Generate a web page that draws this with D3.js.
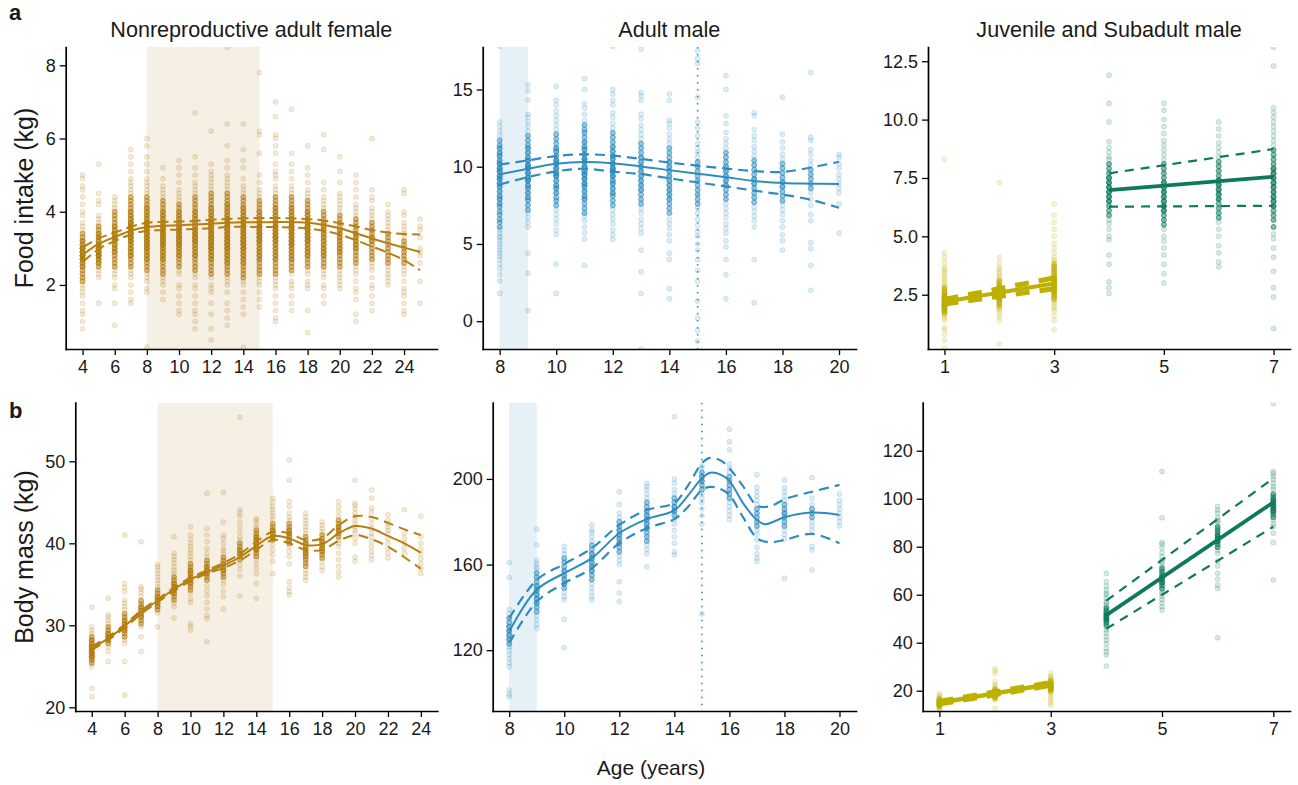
<!DOCTYPE html>
<html>
<head>
<meta charset="utf-8">
<script src="https://cdn.jsdelivr.net/npm/d3@7"></script>
<style>
  body { margin: 0; background: #fff; }
  svg { display: block; }
  text { font-family: "Liberation Sans", Arial, Helvetica, sans-serif; fill: #1a1a1a; }
</style>
</head>
<body>
<svg id="fig" width="1298" height="785"></svg>
<script>
// ---------- observations: one string per age, "value" or "value*count" ----------
const femaleFoodAges = [4,5,6,7,8,9,10,11,12,13,14,15,16,17,18,19,20,21,22,23,24,25];
const femaleFoodObs = [
  "0.8 1.0 1.2 1.3 1.5 1.7 1.8 1.9 2.0 2.1*4 2.2*4 2.3*4 2.4*4 2.5*7 2.6*7 2.7*11 2.8*11 2.9*11 3.0*11 3.1*7 3.2*7 3.3*4 3.4*4 3.5 3.6 3.7 3.9 4.0 4.2 4.4 4.6 4.7 4.9 5.0",
  "1.5 2.2 2.3 2.4 2.5*4 2.6*7 2.7*7 2.8*11 2.9*11 3.0*11 3.1*11 3.2*7 3.3*7 3.4*7 3.5*4 3.6*4 3.7 3.8 3.9 4.2 4.3 4.5 5.3",
  "0.9 1.5 1.9 2.0 2.2 2.3 2.4 2.5*4 2.6*4 2.7*4 2.8*4 2.9*7 3.0*7 3.1*7 3.2*7 3.3*11 3.4*7 3.5*7 3.6*7 3.7*4 3.8*4 3.9*4 4.0*4 4.1 4.2 4.3 4.4",
  "1.5 1.6 1.8 2.0 2.2 2.3 2.4 2.5*4 2.6*4 2.7*4 2.8*7 2.9*7 3.0*7 3.1*7 3.2*11 3.3*11 3.4*11 3.5*11 3.6*11 3.7*11 3.8*7 3.9*7 4.0*7 4.1*4 4.2*4 4.3*4 4.4*4 4.5 4.6 4.7 4.8 4.9 5.1 5.3 5.5 5.7",
  "0.3 1.8 1.9 2.1 2.2 2.3 2.4*4 2.5*4 2.6*4 2.7*7 2.8*7 2.9*7 3.0*11 3.1*11 3.2*11 3.3*11 3.4*11 3.5*11 3.6*11 3.7*11 3.8*7 3.9*7 4.0*7 4.1*7 4.2*4 4.3*4 4.4*4 4.5 4.6 4.7 4.8 4.9 5.1 5.3 5.5 5.8 6.0",
  "1.6 1.8 2.0 2.1 2.2 2.3*4 2.4*4 2.5*4 2.6*4 2.7*7 2.8*7 2.9*7 3.0*7 3.1*11 3.2*11 3.3*11 3.4*11 3.5*11 3.6*11 3.7*7 3.8*7 3.9*7 4.0*7 4.1*4 4.2*4 4.3*4 4.4 4.5 4.6 4.7 4.9 5.2",
  "1.2 1.3 1.5 1.7 1.9 2.0 2.3 2.4 2.5*4 2.6*4 2.7*4 2.8*7 2.9*7 3.0*7 3.1*11 3.2*11 3.3*11 3.4*11 3.5*11 3.6*11 3.7*7 3.8*7 3.9*7 4.0*7 4.1*4 4.2*4 4.3 4.4 4.5 4.6 4.8 5.0 5.2 5.4",
  "0.8 1.0 1.2 1.3 1.5 1.7 1.9 2.0 2.2 2.3 2.4*4 2.5*4 2.6*4 2.7*4 2.8*7 2.9*7 3.0*7 3.1*7 3.2*11 3.3*11 3.4*11 3.5*11 3.6*7 3.7*7 3.8*7 3.9*7 4.0*7 4.1*4 4.2*4 4.3*4 4.4*4 4.5 4.6 4.7 4.8 5.0 5.2 5.5 6.7",
  "0.5 0.8 1.2 1.5 1.8 1.9 2.0 2.2 2.3*4 2.4*4 2.5*4 2.6*4 2.7*7 2.8*7 2.9*7 3.0*11 3.1*11 3.2*11 3.3*11 3.4*11 3.5*11 3.6*11 3.7*11 3.8*7 3.9*7 4.0*7 4.1*7 4.2*4 4.3*4 4.4*4 4.5*4 4.6 4.7 4.8 4.9 5.0 5.1 5.3 6.2",
  "0.9 1.1 1.3 1.5 1.8 2.0 2.1 2.2 2.3*4 2.4*4 2.5*4 2.6*7 2.7*7 2.8*7 2.9*7 3.0*11 3.1*11 3.2*11 3.3*11 3.4*11 3.5*11 3.6*11 3.7*11 3.8*11 3.9*7 4.0*7 4.1*7 4.2*7 4.3*4 4.4*4 4.5*4 4.6 4.7 4.8 4.9 5.0 5.2 5.4 5.8 6.4 8.5",
  "0.3 1.2 1.4 1.6 1.8 2.0 2.1 2.2*4 2.3*4 2.4*4 2.5*4 2.6*7 2.7*7 2.8*7 2.9*7 3.0*11 3.1*11 3.2*11 3.3*11 3.4*11 3.5*11 3.6*11 3.7*11 3.8*7 3.9*7 4.0*7 4.1*7 4.2*4 4.3*4 4.4*4 4.5 4.6 4.7 4.9 5.2 5.4 5.7 6.4",
  "1.4 1.6 1.8 2.0 2.1 2.2 2.3*4 2.4*4 2.5*4 2.6*4 2.7*7 2.8*7 2.9*7 3.0*7 3.1*7 3.2*11 3.3*11 3.4*11 3.5*11 3.6*11 3.7*7 3.8*7 3.9*7 4.0*7 4.1*4 4.2*4 4.3*4 4.4 4.5 4.6 4.8 5.0 5.6 6.1 6.2 7.8",
  "1.0 1.1 1.3 1.5 1.7 1.9 2.0 2.1 2.2 2.3*4 2.4*4 2.5*4 2.6*4 2.7*7 2.8*7 2.9*7 3.0*7 3.1*7 3.2*11 3.3*11 3.4*11 3.5*11 3.6*11 3.7*7 3.8*7 3.9*7 4.0*7 4.1*7 4.2*4 4.3*4 4.4*4 4.5 4.6 4.7 4.9 5.0 5.1 5.3 5.6 5.8 6.0 6.1 6.6 7.0",
  "1.3 1.5 1.7 1.9 2.0 2.1 2.3 2.4*4 2.5*4 2.6*4 2.7*7 2.8*7 2.9*7 3.0*7 3.1*11 3.2*11 3.3*11 3.4*11 3.5*11 3.6*11 3.7*11 3.8*7 3.9*7 4.0*7 4.1*7 4.2*4 4.3*4 4.4*4 4.5 4.6 4.7 4.9 5.1 5.3 5.6 6.8",
  "0.7 1.3 1.9 2.0 2.1 2.3 2.4 2.5*4 2.6*4 2.7*4 2.8*7 2.9*7 3.0*7 3.1*7 3.2*11 3.3*11 3.4*11 3.5*11 3.6*11 3.7*7 3.8*7 3.9*7 4.0*7 4.1*4 4.2*4 4.3*4 4.4 4.5 4.6 4.8 5.0 5.2 5.8",
  "1.5 1.7 1.9 2.0 2.2 2.3 2.4 2.5*4 2.6*4 2.7*4 2.8*7 2.9*7 3.0*7 3.1*7 3.2*7 3.3*7 3.4*7 3.5*7 3.6*7 3.7*7 3.8*4 3.9*4 4.0*4 4.1 4.2 4.3 4.4 4.6 4.8 5.7 6.1",
  "1.9 2.0 2.1 2.2 2.3 2.4 2.5*4 2.6*4 2.7*4 2.8*4 2.9*7 3.0*7 3.1*7 3.2*7 3.3*7 3.4*7 3.5*7 3.6*4 3.7*4 3.8*4 3.9*4 4.0 4.1 4.2 4.3 4.4 4.5 4.8 5.1 5.5",
  "1.0 1.2 1.6 1.8 1.9 2.1 2.3 2.4 2.5 2.6*4 2.7*4 2.8*4 2.9*4 3.0*7 3.1*7 3.2*7 3.3*7 3.4*7 3.5*4 3.6*4 3.7*4 3.8*4 3.9 4.0 4.1 4.2 4.4 4.6 4.8 5.0",
  "1.3 1.5 1.7 1.9 2.0 2.2 2.4 2.5 2.6 2.7*4 2.8*4 2.9*4 3.0*4 3.1*4 3.2*7 3.3*7 3.4*4 3.5*4 3.6*4 3.7*4 3.8 3.9 4.0 4.1 4.3 4.4 4.6 6.0",
  "2.0 2.1 2.2 2.3 2.4 2.5 2.6*4 2.7*4 2.8*4 2.9*4 3.0*4 3.1*4 3.2*4 3.3*4 3.4*4 3.5 3.6 3.7 3.8 3.9 4.0 4.2",
  "1.2 1.3 1.5 1.7 1.8 1.9 2.1 2.3 2.4 2.5 2.6*4 2.7*4 2.8*4 2.9*4 3.0*4 3.1*4 3.2*4 3.3 3.4 3.5 3.6 3.7 3.9 4.0 4.5 4.6",
  "1.5 2.1 2.6 2.8 2.9 3.0 3.3 3.5 3.6 3.8"
];

const maleAges = [8,9,10,11,12,13,14,15,16,17,18,19,20];
const maleFoodObs = [
  "1.8 2.6 3.0 3.4 3.7 4.0 4.2 4.4 4.6 4.8 5.0 5.2 5.4 5.5 5.7 5.9 6.1*4 6.4*4 6.6*4 6.9*4 7.1*4 7.4*4 7.6*6 7.9*6 8.1*6 8.4*6 8.7*6 8.9*9 9.2*9 9.4*9 9.7*9 9.9*9 10.2*9 10.4*6 10.7*6 10.9*6 11.2*6 11.4*4 11.7*4 12.0 12.3 12.6 12.9 17.8",
  "0.7 3.1 4.4 6.1 6.4 6.7 7.0 7.2*4 7.5*4 7.8*4 8.0*6 8.3*6 8.6*6 8.8*6 9.1*9 9.3*9 9.6*9 9.9*9 10.1*9 10.4*9 10.6*6 10.9*6 11.2*6 11.4*4 11.7*4 12.0*4 12.3 12.6 12.9 13.2 13.4 14.3 14.9 15.3",
  "1.8 3.7 5.6 5.9 6.3 6.6 6.9 7.2 7.5*4 7.8*4 8.0*4 8.3*6 8.6*6 8.8*6 9.1*6 9.4*9 9.6*9 9.9*9 10.2*9 10.4*9 10.7*6 11.0*6 11.2*6 11.5*4 11.8*4 12.1*4 12.4 12.7 13.0 13.3 13.6 14.0 14.3 15.2",
  "3.6 5.3 5.7 6.1 6.5 6.8 7.0*4 7.3*4 7.6*4 7.9*6 8.1*6 8.4*6 8.7*6 8.9*9 9.2*9 9.5*9 9.7*9 10.0*9 10.3*9 10.5*9 10.8*6 11.1*6 11.3*6 11.6*6 11.9*4 12.2*4 12.4*4 12.7*4 13.0 13.4 13.8 14.1 15.0 15.7",
  "5.3 5.6 5.9 6.3 6.6 6.9 7.2 7.5*4 7.8*4 8.1*4 8.3*6 8.6*6 8.9*6 9.1*6 9.4*9 9.7*9 9.9*9 10.2*9 10.5*6 10.7*6 11.0*6 11.3*6 11.6*4 11.9*4 12.2*4 12.5 12.8 13.2 13.5 14.0 14.3 14.7 15.0 17.8",
  "-1.8 1.8 3.2 4.6 5.7 6.0 6.3 6.6 7.0 7.3 7.6*4 7.9*4 8.2*4 8.5*6 8.8*6 9.1*6 9.4*6 9.7*6 10.0*6 10.3*6 10.6*6 10.9*4 11.2*4 11.5*4 11.8 12.1 12.4 12.7 13.1 13.4 14.3 14.6 14.8 17.6",
  "1.45 2.1 4.0 4.4 5.2 5.6 6.0 6.3 6.6 7.0*4 7.3*4 7.6*4 7.9*6 8.2*6 8.5*6 8.8*6 9.1*6 9.4*6 9.7*6 10.0*6 10.3*6 10.6*4 10.9*4 11.2*4 11.5 11.8 12.1 12.5 12.8 13.0 14.3 14.7",
  "-1.3 -0.6 0.2 1.3 2.6 3.3 4.0 4.6 5.0 5.5 5.8 6.2 6.6 7.0 7.3 7.6*4 7.9*4 8.2*4 8.5*4 8.8*4 9.1*4 9.4*4 9.7*4 10.0*4 10.3*4 10.6 10.9 11.2 11.5 12.0 12.5 12.9 14.5 16.7 17.0 17.5",
  "1.45 3.0 4.0 4.8 5.2 5.7 6.0 6.3 6.7 7.0 7.3 7.6 7.9*4 8.2*4 8.5*4 8.8*6 9.1*6 9.4*6 9.7*6 10.0*6 10.3*4 10.6*4 10.9*4 11.2 11.5 11.8 12.2 12.8 13.3 15.0 15.9",
  "1.2 4.0 6.1 6.5 6.8 7.1 7.4 7.7*4 8.0*4 8.3*4 8.6*4 8.9*6 9.2*6 9.5*4 9.8*4 10.1*4 10.4*4 10.7 11.0 11.3 11.7 12.0 12.4 13.3 13.5",
  "4.6 5.2 5.6 6.1 6.5 6.9 7.2 7.5 7.8*4 8.1*4 8.4*4 8.7*6 9.0*6 9.3*4 9.6*4 9.9*4 10.2*4 10.5 10.8 11.2 11.6 12.1 14.5",
  "2.0 3.6 4.7 5.1 6.5 6.9 7.5 7.9 8.3 8.6*4 8.9*4 9.2*4 9.5*4 9.8*4 10.1 10.4 10.8 11.1 11.7 11.9 16.1",
  "5.7 7.6 8.3 8.6 8.9 9.2 9.5 9.9 10.2 10.6 10.8"
];

const juvAges = [1,2,3,4,5,6,7];
const juvFoodObs = [
  "0.2 0.55 0.8 1.0 1.1 1.4 1.5 1.6 1.7*4 1.8*7 1.9*7 2.0*11 2.1*11 2.2*11 2.3*11 2.4*7 2.5*7 2.6*4 2.7*4 2.8*4 2.9 3.0 3.1 3.2 3.3 3.4 3.5 3.6 3.7 3.9 4.1 4.3 8.3",
  "0.4 1.4 1.55 1.7 1.8 1.9 2.0*4 2.1*4 2.2*4 2.3*7 2.4*7 2.5*7 2.6*7 2.7*7 2.8*7 2.9*4 3.0*4 3.1*4 3.2 3.3 3.4 3.5 3.6 3.7 3.9 4.1 7.3",
  "1.0 1.4 1.6 1.8 1.9 2.0 2.1 2.2 2.3*4 2.4*4 2.5*4 2.6*7 2.7*7 2.8*7 2.9*7 3.0*7 3.1*7 3.2*7 3.3*4 3.4*4 3.5*4 3.6*4 3.7*4 3.8*4 3.9 4.0 4.1 4.3 4.5 4.7 5.0 5.3 5.6 5.9 6.4",
  "2.55 2.8 3.05 3.8 4.2 4.85 5.0 5.3 5.55 5.7 5.9*4 6.1*4 6.3*4 6.5*7 6.7*7 6.9*7 7.1*7 7.3*7 7.5*7 7.7*4 7.9*4 8.1*4 8.3 8.4 8.6 8.8 9.05 9.9 10.7 11.9",
  "3.0 3.4 3.8 4.2 4.5 4.8 5.0 5.3 5.5*4 5.7*4 5.9*4 6.1*7 6.3*7 6.5*7 6.7*7 6.9*7 7.1*7 7.3*7 7.5*4 7.7*4 7.9*4 8.1*4 8.3 8.5 8.7 8.9 9.1 9.4 9.7 10.0 10.4 10.7",
  "3.7 3.9 4.3 4.6 5.0 5.3 5.6 5.8*4 6.0*4 6.2*4 6.4*4 6.6*7 6.8*7 7.0*7 7.2*7 7.4*7 7.6*4 7.8*4 8.0*4 8.2*4 8.4 8.6 8.8 9.0 9.3 9.6 9.9",
  "1.05 2.4 2.8 3.5 4.1 4.5 4.9 5.1 5.4*4 5.7*4 5.9*4 6.1*4 6.3*7 6.5*7 6.7*7 6.9*7 7.1*7 7.3*7 7.5*7 7.7*7 7.9*7 8.1*4 8.3*4 8.5*4 8.7*4 8.9 9.1 9.3 9.5 9.7 9.9 10.1 10.3 10.5 12.3 13.1"
];

const femaleMassAges = [4,5,6,7,8,9,10,11,12,13,14,15,16,17,18,19,20,21,22,23,24];
const femaleMassObs = [
  "21.3 22.3 25.0 25.4*4 25.8*7 26.2*11 26.6*11 27.0*11 27.4*11 27.8*7 28.2*7 28.6*4 29.0 29.4 29.8 32.2",
  "25.6 26.8 27.4 27.8*4 28.2*7 28.6*7 29.0*7 29.4*4 29.8*4 30.2 30.6 31.0 31.3 33.3",
  "21.5 25.6 27.8 28.2 28.6*4 29.0*4 29.4*7 29.8*7 30.2*7 30.6*7 31.0*4 31.4*4 31.9 32.3 32.7 33.1 34.1 34.6 35.1 41.0",
  "26.8 28.6 29.8 30.2*4 30.6*4 31.0*7 31.4*7 31.8*7 32.2*7 32.6*4 33.0*4 33.5 34.0 34.4 34.7 40.2",
  "29.8 31.5 31.9*4 32.3*7 32.7*7 33.1*7 33.5*7 33.9*4 34.3*4 34.7 35.1 35.5 35.9 36.3 36.7 37.1 37.4",
  "30.9 32.3 32.7 33.1*4 33.5*4 33.9*7 34.3*7 34.7*7 35.1*7 35.5*4 35.9*4 36.3 36.7 37.1 37.6 38.0 38.4 38.8 40.8",
  "29.4 29.9 30.2 32.8 33.2 33.9 34.3*4 34.7*4 35.1*7 35.5*7 35.9*7 36.3*7 36.7*7 37.1*4 37.5*4 38.0 38.4 38.8 39.2 39.6 40.0 40.5 41.0 42.0",
  "28.0 30.8 31.2 32.0 32.8 33.6 34.2 34.8 35.5*4 35.9*4 36.3*7 36.7*7 37.1*7 37.5*4 37.9*4 38.3 38.8 39.4 40.2 41.0 41.8 46.1",
  "32.0 33.5 34.2 35.0 35.5 35.9*4 36.3*4 36.7*7 37.1*7 37.5*7 37.9*4 38.3*4 38.7 39.1 39.4 40.0 40.6 41.0 42.6 46.2",
  "33.6 36.0 36.8 37.4 38.0*4 38.4*4 38.8*7 39.2*7 39.6*4 40.0*4 40.4 40.8 41.4 42.0 42.6 43.3 43.7 44.1 55.4",
  "33.3 35.1 36.3 36.9 37.5 38.0 38.4*4 38.8*4 39.2*7 39.6*7 40.0*7 40.4*7 40.8*7 41.2*4 41.6*4 42.0 42.4 42.8 43.0",
  "36.3 37.8 38.6 39.2 39.8 40.4*4 40.8*7 41.2*7 41.6*7 42.0*4 42.4*4 42.9 43.3 43.7 44.1 44.5 45.0 45.5",
  "33.7 34.1 34.6 35.3 37.5 38.4 39.0 39.6 40.0*4 40.4*7 40.8*7 41.2*7 41.6*7 42.0*4 42.4*4 42.8 43.2 43.7 44.5 45.1 47.7 50.2",
  "35.5 35.9 36.3 36.7 37.2*4 37.6*4 38.0*4 38.4*7 38.8*7 39.2*7 39.6*7 40.0*7 40.4*4 40.8*4 41.2 41.6 42.0 42.4 42.8 43.2 43.7",
  "36.7 37.2 37.8 38.2*4 38.6*4 39.0*7 39.4*7 39.8*7 40.2*7 40.6*4 41.0*4 41.4 41.8 42.2 42.6",
  "35.9 36.5 37.2 38.0 38.8 39.6 40.0 40.4 40.8*4 41.2*4 41.6*7 42.0*7 42.4*4 42.8*4 43.3 43.9 44.5 45.1",
  "37.8 38.3 40.0 40.6 41.2 41.6 42.0 42.4 42.8 43.3 43.7 44.2 44.6 44.9 47.7",
  "38.0 38.5 39.0 39.6 40.2 40.8 41.2 41.8 42.4 43.0 43.8 44.3 45.5 46.5",
  "38.2 38.8 39.4 40.0 40.6 41.2 41.6 42.0 42.4 42.8 43.5",
  "38.8 39.4 40.0 40.6 41.2 44.1",
  "36.3 36.9 37.5 38.1 38.7 39.3 40.0 40.8 43.3"
];

const maleMassObs = [
  "98.3 99.5 101.4 112.3 114 116 118 120 121.5 123*4 125*6 127*6 129*6 131*6 133*4 135*4 137 139 153.9 161",
  "130.2 132 134 136 138*4 140*4 142*6 144*6 146*6 148*6 150*6 152*4 154*4 156*4 158 159 160.5 162 169.2 176.5",
  "121.2 134.4 143.5 145 147 149*4 151*6 153*6 155*6 157*6 159*4 161*4 163*4 165 166.5 168.5",
  "143.5 145 147 149 151 153*4 155*4 157*6 159*6 161*6 163*6 165*6 167*4 169*4 171 173 175 176 178.5",
  "142.7 146.6 152 160 162 164 166*4 168*4 170*6 172*6 174*6 176*6 178*4 180*4 182 184 188 194",
  "159 165 167 169 171*4 173*4 175*4 177*6 179*6 181*6 183*6 185*4 187*4 189*4 191 193 195 196.4 198",
  "164.5 166 170 173 176 179 181 183*4 185*6 187*6 189*4 191*4 193 195 198 200 229",
  "137 179 183 186 189 191 193 195*4 197*4 199*6 201*6 203*4 205 206",
  "181 183 185 187 189 191*4 193*4 195*4 197*4 199*4 201*4 203 205 207 213.6 217.4 223.2",
  "161.4 163 165 168 171.5 174 176 178*4 180*4 182*4 184*4 186*4 188 190 192 194 196 202",
  "153.6 172 174 176 178*4 180*4 182*4 184*6 186*4 188*4 190 192 194 196 199.5",
  "157.5 166.8 168.4 176 178 180 182*4 184*4 186*4 188 191 200.6",
  "178 180 182 184 186 188 190 193"
];

const juvMassObs = [
  "11.9 12.5 13 13.5*4 14*7 14.5*7 15*7 15.5*7 16*4 16.5*4 17 17.5 18 18.9",
  "12.6 16.1 16.5 17*4 17.5*4 18*7 18.5*7 19*7 19.5*4 20*4 20.5*4 21 21.7 22.5 23.7 27.2 28.3 29.3",
  "14 15 16 17 18.2 18.9 19.5 20*4 20.5*4 21*7 21.5*7 22*7 22.5*7 23*7 23.5*4 24*4 24.5 25 25.5 26 27.2",
  "30.3 34.9 36.2 37.6 39.7 41 42.5 44 45.3 46.5 47.4*4 48.5*4 49.5*7 50.5*7 51.5*7 52.5*4 53.5*4 54.5*4 55.5 56.5 57.1 58.5 60 60.6 62 63.5 65.4 68.9",
  "53.6 55 56.5 58 59.2 60.5 61.5 62.6*4 63.8*4 65*7 66.2*7 67.4*7 68.6*4 69.8*4 71*4 72.2 73.4 74.4 75.8 77.5 79.5 81 81.8 92.1 111.3",
  "42.1 62.6 64 66.5 68.9 72 74 77.2 78.5 79.8*4 81*4 82.2*7 83.4*7 84.6*7 85.8*4 87*4 88.2*4 89.4 90.6 91.1 92.2 94 95.3 96.7",
  "66.1 81.7 85.6 88.3 89.5 91.1 92.3*4 93.5*4 94.7*7 95.9*7 97.1*7 98.3*7 99.5*7 100.7*4 101.9*4 103.9 105 106.5 108 109.2 110.5 111.3 139.7"
];

// ---------- fitted curves with lower / upper confidence limits ----------
const femaleFoodFit = [2.82,3.12,3.31,3.48,3.58,3.62,3.63,3.65,3.67,3.70,3.71,3.71,3.72,3.72,3.70,3.64,3.55,3.41,3.27,3.14,3.02,2.90];
const femaleFoodLo  = [2.62,2.98,3.20,3.38,3.48,3.50,3.51,3.53,3.55,3.58,3.59,3.58,3.58,3.57,3.54,3.48,3.38,3.22,3.05,2.88,2.68,2.40];
const femaleFoodHi  = [3.02,3.27,3.43,3.59,3.70,3.72,3.73,3.75,3.78,3.80,3.82,3.83,3.83,3.82,3.80,3.76,3.69,3.60,3.50,3.43,3.39,3.38];

const maleFoodFit = [9.50,9.87,10.19,10.30,10.22,10.02,9.78,9.55,9.32,9.08,8.94,8.90,8.88];
const maleFoodLo  = [8.85,9.33,9.70,9.87,9.68,9.52,9.25,8.98,8.73,8.45,8.20,7.86,7.34];
const maleFoodHi  = [10.13,10.41,10.69,10.80,10.72,10.50,10.27,10.07,9.88,9.72,9.66,9.95,10.32];

const juvLineAges = [1,3];
const subLineAges = [4,7];
const juvFoodFit = [2.20,2.98], juvFoodLo = [2.10,2.76], juvFoodHi = [2.30,3.22];
const subFoodFit = [6.98,7.55], subFoodLo = [6.27,6.31], subFoodHi = [7.70,8.74];

const femaleMassFit = [27.2,28.4,29.9,31.6,33.0,34.4,35.6,36.5,37.3,38.3,39.7,40.9,40.6,39.8,39.9,41.2,42.1,41.8,40.9,40.0,38.85];
const femaleMassLo  = [27.0,28.2,29.7,31.4,32.8,34.2,35.4,36.3,37.0,37.9,39.2,40.4,40.0,39.2,39.2,40.3,41.0,40.5,39.6,38.3,36.9];
const femaleMassHi  = [27.4,28.6,30.1,31.8,33.2,34.6,35.8,36.7,37.6,38.7,40.2,41.4,41.2,40.4,40.6,42.2,43.3,43.2,42.5,41.7,41.0];

const maleMassFitAges = [8,9,10,11,12,13,14,14.5,15,15.3,15.7,16,16.5,17,17.3,17.6,18,19,20];
const maleMassFit = [128.7,148.2,156.0,163.0,174.6,181.2,185.3,192.3,200.3,202.9,201.9,199.1,188.6,180.8,178.8,180.0,182.1,184.3,183.2];
const maleMassLo  = [123.3,142.7,151.3,158.3,170.0,177.0,181.2,187.0,194.9,196.3,195.2,192.5,182.0,172.3,170.7,170.5,171.5,174.3,170.0];
const maleMassHi  = [134.9,152.8,160.3,167.6,178.5,185.5,188.8,197.0,207.3,209.8,208.5,205.0,196.5,187.5,186.9,187.8,190.5,194.0,197.2];

const juvMassFit = [15.0,22.8], juvMassLo = [14.2,22.0], juvMassHi = [15.8,23.6];
const subMassFit = [51.5,98.5], subMassLo = [45.8,88.3], subMassHi = [57.5,108.5];

// ---------- axis ticks and labels ----------
const femaleXTicks = [4,6,8,10,12,14,16,18,20,22,24];
const maleXTicks = [8,10,12,14,16,18,20];
const juvXTicks = [1,3,5,7];
const femaleFoodYTicks = [2,4,6,8];
const maleFoodYTicks = [0,5,10,15];
const juvFoodYTicks = [2.5,5,7.5,10,12.5];
const femaleMassYTicks = [20,30,40,50];
const maleMassYTicks = [120,160,200];
const juvMassYTicks = [20,40,60,80,100,120];
const panelTitles = ["Nonreproductive adult female", "Adult male", "Juvenile and Subadult male"];

// ---------- colours ----------
const GOLD = "#B67F10", BLUE = "#2F8CC0", OLIVE = "#BDB000", GREEN = "#0E7A5A";
const GOLD_BAND = "#F6EFE3", BLUE_BAND = "#E5F1F7";

const svg = d3.select("#fig");
svg.append("rect").attr("width", 1298).attr("height", 785).attr("fill", "#fff");

function parseObs(str) {
  const out = [];
  str.trim().split(/\s+/).forEach(tok => {
    const parts = tok.split("*");
    const n = parts.length > 1 ? +parts[1] : 1;
    for (let i = 0; i < n; i++) out.push(+parts[0]);
  });
  return out;
}

let clipId = 0;
function drawPanel(p) {
  const x = d3.scaleLinear().domain(p.xDomain).range([p.left, p.right]);
  const y = d3.scaleLinear().domain(p.yDomain).range([p.bottom, p.top]);
  const g = svg.append("g");
  const id = "clip" + (clipId++);
  g.append("clipPath").attr("id", id).append("rect")
    .attr("x", p.left).attr("y", p.top).attr("width", p.right - p.left).attr("height", p.bottom - p.top);
  const plot = g.append("g").attr("clip-path", `url(#${id})`);

  if (p.band) {
    plot.append("rect")
      .attr("x", x(p.band[0])).attr("width", x(p.band[1]) - x(p.band[0]))
      .attr("y", p.top).attr("height", p.bottom - p.top)
      .attr("fill", p.bandColor);
  }

  // observations
  const pts = [];
  p.ages.forEach((a, i) => {
    parseObs(p.obs[i]).forEach(v => pts.push({ a, v, c: p.pointColor(a) }));
  });
  plot.append("g").selectAll("circle").data(pts).join("circle")
    .attr("cx", d => x(d.a)).attr("cy", d => y(d.v)).attr("r", 2.5)
    .attr("fill", d => d.c).attr("fill-opacity", 0.16)
    .attr("stroke", d => d.c).attr("stroke-opacity", 0.22).attr("stroke-width", 0.8);

  // fitted lines
  const line = d3.line().x(d => x(d[0])).y(d => y(d[1])).curve(d3.curveCatmullRom.alpha(0.5));
  p.fits.forEach(f => {
    const lo = f.ages.map((a, i) => [a, f.lo[i]]);
    const hi = f.ages.map((a, i) => [a, f.hi[i]]);
    const mid = f.ages.map((a, i) => [a, f.fit[i]]);
    [lo, hi].forEach(arr => plot.append("path").attr("d", line(arr)).attr("fill", "none")
      .attr("stroke", f.color).attr("stroke-width", f.ciWidth).attr("stroke-dasharray", f.dash));
    plot.append("path").attr("d", line(mid)).attr("fill", "none")
      .attr("stroke", f.color).attr("stroke-width", f.width).attr("stroke-linejoin", "round");
  });

  if (p.vline !== undefined) {
    plot.append("line").attr("x1", x(p.vline)).attr("x2", x(p.vline))
      .attr("y1", p.top).attr("y2", p.bottom)
      .attr("stroke", BLUE).attr("stroke-width", 1.6).attr("stroke-dasharray", "1.6 5.4");
  }

  // axes
  const ax = g.append("g").attr("transform", `translate(0,${p.bottom})`)
    .call(d3.axisBottom(x).tickValues(p.xTicks).tickSize(6).tickSizeOuter(0).tickPadding(5).tickFormat(d3.format("d")));
  const ay = g.append("g").attr("transform", `translate(${p.left},0)`)
    .call(d3.axisLeft(y).tickValues(p.yTicks).tickSize(6).tickSizeOuter(0).tickPadding(4).tickFormat(p.yFormat));
  [ax, ay].forEach(a => {
    a.select(".domain").attr("stroke", "#000").attr("stroke-width", 1.7).attr("stroke-linecap", "square");
    a.selectAll(".tick line").attr("stroke", "#000").attr("stroke-width", 1.3);
    a.selectAll(".tick text").attr("font-size", 18).attr("fill", "#1a1a1a")
      .attr("font-family", '"Liberation Sans", Arial, Helvetica, sans-serif');
  });

  if (p.title) {
    svg.append("text").attr("x", (p.left + p.right) / 2).attr("y", 37)
      .attr("text-anchor", "middle").attr("font-size", 21.6).text(p.title);
  }
}

const femaleColor = () => GOLD;
const maleColor = () => BLUE;
const juvColor = a => a <= 3 ? OLIVE : GREEN;

drawPanel({
  left: 65.7, right: 437, top: 47, bottom: 349,
  xDomain: [2.95, 26.05], yDomain: [0.25, 8.5],
  xTicks: femaleXTicks, yTicks: femaleFoodYTicks, yFormat: d3.format("d"),
  ages: femaleFoodAges, obs: femaleFoodObs, pointColor: femaleColor,
  band: [8, 15], bandColor: GOLD_BAND, title: panelTitles[0],
  fits: [{ ages: femaleFoodAges, fit: femaleFoodFit, lo: femaleFoodLo, hi: femaleFoodHi,
           color: GOLD, width: 2, ciWidth: 2, dash: "11 5" }]
});
drawPanel({
  left: 482.7, right: 856, top: 47, bottom: 349,
  xDomain: [7.4, 20.6], yDomain: [-1.8, 17.75],
  xTicks: maleXTicks, yTicks: maleFoodYTicks, yFormat: d3.format("d"),
  ages: maleAges, obs: maleFoodObs, pointColor: maleColor,
  band: [8, 9], bandColor: BLUE_BAND, vline: 15, title: panelTitles[1],
  fits: [{ ages: maleAges, fit: maleFoodFit, lo: maleFoodLo, hi: maleFoodHi,
           color: BLUE, width: 2, ciWidth: 2.2, dash: "10 6" }]
});
drawPanel({
  left: 928, right: 1290, top: 47, bottom: 349,
  xDomain: [0.7, 7.3], yDomain: [0.175, 13.11],
  xTicks: juvXTicks, yTicks: juvFoodYTicks, yFormat: d3.format(".1f"),
  ages: juvAges, obs: juvFoodObs, pointColor: juvColor, title: panelTitles[2],
  fits: [
    { ages: juvLineAges, fit: juvFoodFit, lo: juvFoodLo, hi: juvFoodHi, color: OLIVE, width: 4, ciWidth: 5, dash: "14 10" },
    { ages: subLineAges, fit: subFoodFit, lo: subFoodLo, hi: subFoodHi, color: GREEN, width: 3.8, ciWidth: 2.2, dash: "9 7" }
  ]
});
drawPanel({
  left: 75.3, right: 437.3, top: 402.7, bottom: 711,
  xDomain: [3, 25], yDomain: [19.55, 57.15],
  xTicks: femaleXTicks, yTicks: femaleMassYTicks, yFormat: d3.format("d"),
  ages: femaleMassAges, obs: femaleMassObs, pointColor: femaleColor,
  band: [8, 15], bandColor: GOLD_BAND,
  fits: [{ ages: femaleMassAges, fit: femaleMassFit, lo: femaleMassLo, hi: femaleMassHi,
           color: GOLD, width: 2, ciWidth: 2, dash: "10 6" }]
});
drawPanel({
  left: 492.7, right: 856, top: 402.7, bottom: 711,
  xDomain: [7.4, 20.6], yDomain: [91.6, 235.6],
  xTicks: maleXTicks, yTicks: maleMassYTicks, yFormat: d3.format("d"),
  ages: maleAges, obs: maleMassObs, pointColor: maleColor,
  band: [8, 9], bandColor: BLUE_BAND, vline: 15,
  fits: [{ ages: maleMassFitAges, fit: maleMassFit, lo: maleMassLo, hi: maleMassHi,
           color: BLUE, width: 2, ciWidth: 2.2, dash: "10 6" }]
});
drawPanel({
  left: 922.7, right: 1290, top: 402.7, bottom: 711,
  xDomain: [0.7, 7.3], yDomain: [11.54, 140],
  xTicks: juvXTicks, yTicks: juvMassYTicks, yFormat: d3.format("d"),
  ages: juvAges, obs: juvMassObs, pointColor: juvColor,
  fits: [
    { ages: juvLineAges, fit: juvMassFit, lo: juvMassLo, hi: juvMassHi, color: OLIVE, width: 4.5, ciWidth: 4, dash: "14 10" },
    { ages: subLineAges, fit: subMassFit, lo: subMassLo, hi: subMassHi, color: GREEN, width: 3.8, ciWidth: 2.2, dash: "9 7" }
  ]
});

// panel letters and shared axis titles
svg.append("text").attr("x", 9).attr("y", 20).attr("font-size", 22).attr("font-weight", "bold").text("a");
svg.append("text").attr("x", 9).attr("y", 418).attr("font-size", 22).attr("font-weight", "bold").text("b");
svg.append("text").attr("transform", "translate(33,198) rotate(-90)").attr("text-anchor", "middle")
  .attr("font-size", 25).text("Food intake (kg)");
svg.append("text").attr("transform", "translate(33,557) rotate(-90)").attr("text-anchor", "middle")
  .attr("font-size", 25).text("Body mass (kg)");
svg.append("text").attr("x", 651).attr("y", 775).attr("text-anchor", "middle")
  .attr("font-size", 21).text("Age (years)");
</script>
</body>
</html>
